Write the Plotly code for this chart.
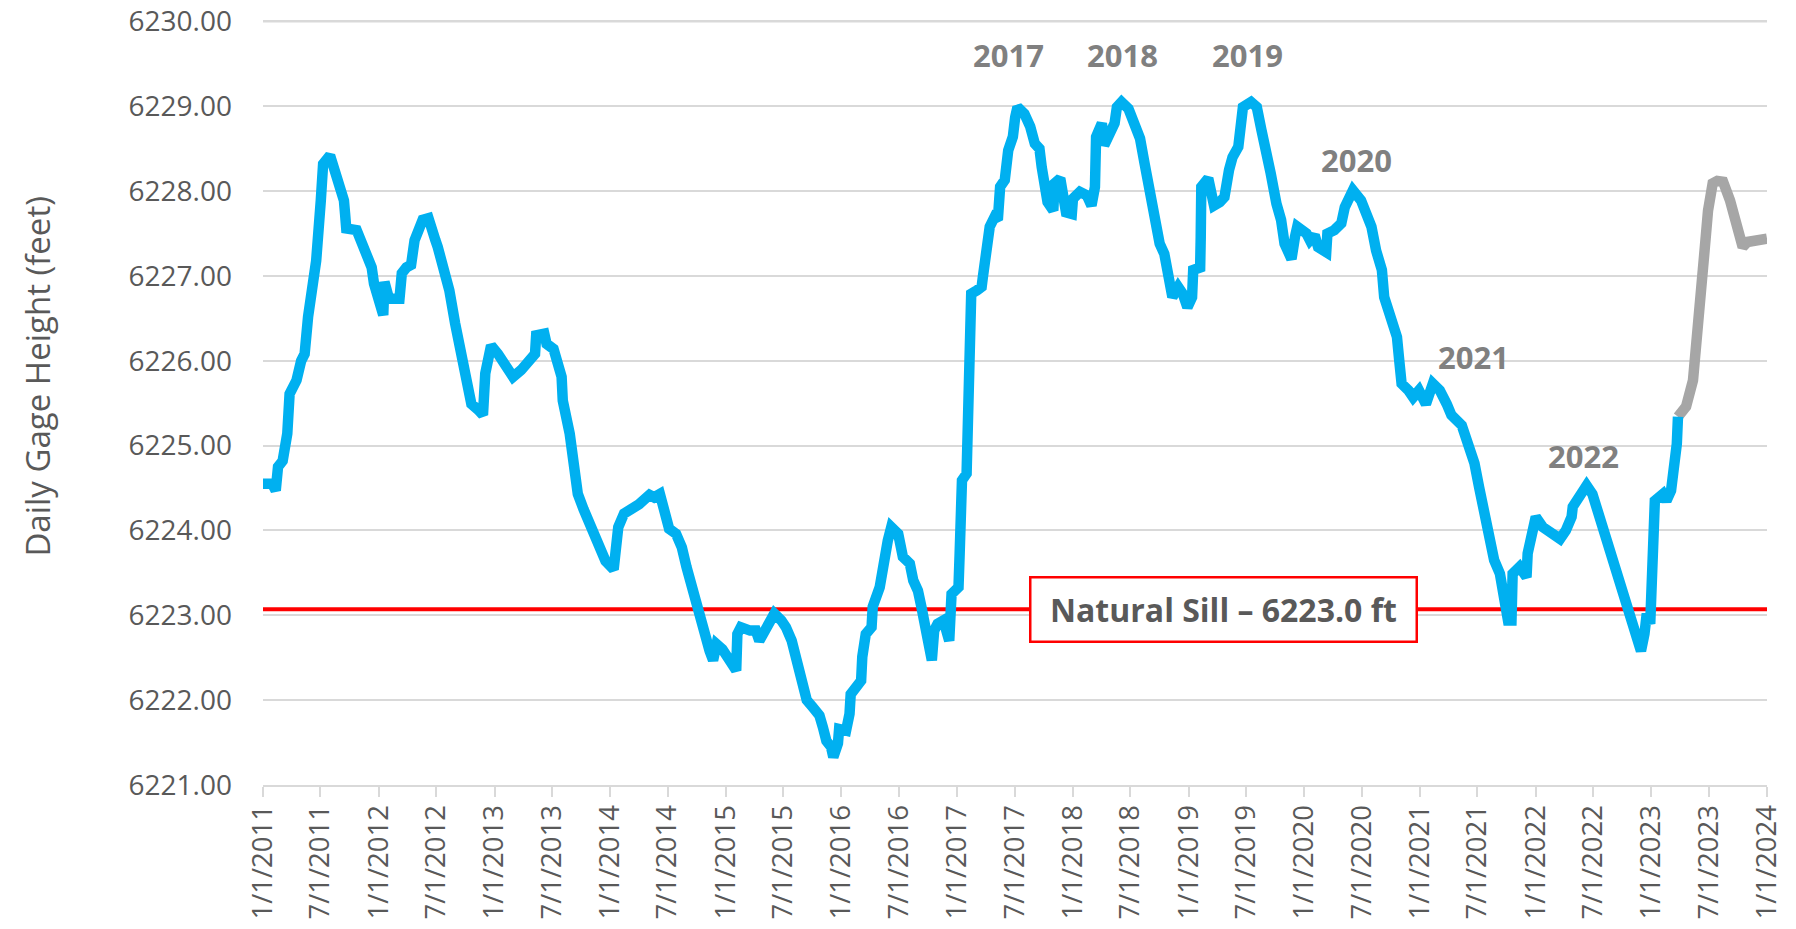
import plotly.graph_objects as go
from datetime import datetime

# ---------------- data (decimal year, gage height in feet) ----------------
blue_years = [
    2011.00, 2011.08, 2011.11, 2011.13, 2011.17, 2011.20, 2011.21, 2011.23, 2011.29, 2011.33,
    2011.36, 2011.39, 2011.43, 2011.46, 2011.50, 2011.52, 2011.58, 2011.63, 2011.70, 2011.71,
    2011.72, 2011.81, 2011.86, 2011.94, 2011.96, 2011.99, 2012.04, 2012.05, 2012.09, 2012.18,
    2012.20, 2012.24, 2012.28, 2012.31, 2012.34, 2012.38, 2012.43, 2012.47, 2012.49, 2012.51,
    2012.55, 2012.61, 2012.66, 2012.70, 2012.76, 2012.80, 2012.86, 2012.90, 2012.92, 2012.94,
    2012.97, 2013.03, 2013.09, 2013.16, 2013.23, 2013.30, 2013.35, 2013.36, 2013.43, 2013.45,
    2013.51, 2013.58, 2013.59, 2013.65, 2013.68, 2013.72, 2013.77, 2013.84, 2013.88, 2013.93,
    2013.96, 2014.03, 2014.07, 2014.12, 2014.20, 2014.25, 2014.34, 2014.38, 2014.43, 2014.47,
    2014.51, 2014.57, 2014.62, 2014.66, 2014.72, 2014.77, 2014.82, 2014.86, 2014.89, 2014.92,
    2014.97, 2015.03, 2015.09, 2015.10, 2015.13, 2015.21, 2015.26, 2015.29, 2015.32, 2015.36,
    2015.42, 2015.48, 2015.52, 2015.57, 2015.62, 2015.67, 2015.70, 2015.75, 2015.81, 2015.84,
    2015.87, 2015.91, 2015.93, 2015.97, 2015.98, 2016.04, 2016.07, 2016.08, 2016.14, 2016.17,
    2016.18, 2016.21, 2016.26, 2016.27, 2016.33, 2016.36, 2016.40, 2016.43, 2016.49, 2016.53,
    2016.59, 2016.62, 2016.66, 2016.69, 2016.73, 2016.78, 2016.80, 2016.83, 2016.88, 2016.93,
    2016.95, 2017.01, 2017.02, 2017.04, 2017.08, 2017.09, 2017.10, 2017.11, 2017.12, 2017.17,
    2017.21, 2017.22, 2017.24, 2017.27, 2017.28, 2017.32, 2017.35, 2017.37, 2017.41, 2017.44,
    2017.48, 2017.50, 2017.52, 2017.58, 2017.63, 2017.67, 2017.71, 2017.73, 2017.76, 2017.78,
    2017.83, 2017.84, 2017.89, 2017.91, 2017.94, 2017.99, 2018.00, 2018.06, 2018.12, 2018.16,
    2018.17, 2018.19, 2018.20, 2018.25, 2018.27, 2018.32, 2018.36, 2018.38, 2018.42, 2018.48,
    2018.52, 2018.58, 2018.62, 2018.65, 2018.68, 2018.71, 2018.75, 2018.79, 2018.82, 2018.86,
    2018.91, 2018.95, 2018.99, 2019.03, 2019.04, 2019.10, 2019.105, 2019.11, 2019.17, 2019.22,
    2019.27, 2019.31, 2019.35, 2019.38, 2019.43, 2019.46, 2019.47, 2019.54, 2019.59, 2019.63,
    2019.67, 2019.71, 2019.76, 2019.80, 2019.83, 2019.89, 2019.92, 2019.94, 2020.02, 2020.05,
    2020.09, 2020.12, 2020.19, 2020.20, 2020.26, 2020.32, 2020.35, 2020.39, 2020.42, 2020.49,
    2020.54, 2020.58, 2020.62, 2020.67, 2020.69, 2020.75, 2020.80, 2020.82, 2020.84, 2020.90,
    2020.94, 2020.99, 2021.05, 2021.11, 2021.17, 2021.23, 2021.27, 2021.36, 2021.40, 2021.43,
    2021.47, 2021.51, 2021.56, 2021.60, 2021.64, 2021.69, 2021.73, 2021.76, 2021.79, 2021.80,
    2021.86, 2021.92, 2021.93, 2021.98, 2022.00, 2022.06, 2022.15, 2022.21, 2022.26, 2022.31,
    2022.32, 2022.38, 2022.44, 2022.49, 2022.55, 2022.61, 2022.65, 2022.70, 2022.75, 2022.80,
    2022.84, 2022.91, 2022.94, 2022.96, 2022.99, 2023.01, 2023.03, 2023.10, 2023.13, 2023.17,
    2023.20, 2023.22, 2023.23,
]
blue_heights = [
    6224.55, 6224.55, 6224.47, 6224.75, 6224.82, 6224.98, 6225.14, 6225.61, 6225.77, 6226.00,
    6226.08, 6226.52, 6226.83, 6227.18, 6227.89, 6228.32, 6228.42, 6228.21, 6227.89, 6227.73,
    6227.56, 6227.54, 6227.34, 6227.10, 6226.91, 6226.75, 6226.54, 6226.93, 6226.73, 6226.73,
    6227.03, 6227.10, 6227.13, 6227.42, 6227.54, 6227.66, 6227.68, 6227.55, 6227.42, 6227.34,
    6227.14, 6226.83, 6226.44, 6226.16, 6225.73, 6225.49, 6225.42, 6225.36, 6225.85, 6225.97,
    6226.18, 6226.08, 6225.97, 6225.81, 6225.89, 6225.98, 6226.08, 6226.30, 6226.32, 6226.20,
    6226.14, 6225.81, 6225.53, 6225.14, 6224.90, 6224.43, 6224.25, 6224.04, 6223.88, 6223.72,
    6223.64, 6223.54, 6224.04, 6224.20, 6224.25, 6224.31, 6224.42, 6224.39, 6224.43, 6224.20,
    6224.02, 6223.96, 6223.80, 6223.57, 6223.25, 6223.06, 6222.78, 6222.58, 6222.47, 6222.66,
    6222.60, 6222.47, 6222.35, 6222.78, 6222.86, 6222.82, 6222.82, 6222.70, 6222.78, 6222.90,
    6223.02, 6222.94, 6222.86, 6222.70, 6222.47, 6222.19, 6222.00, 6221.92, 6221.82, 6221.68,
    6221.52, 6221.45, 6221.33, 6221.49, 6221.66, 6221.64, 6221.84, 6222.07, 6222.15, 6222.23,
    6222.51, 6222.78, 6222.86, 6223.10, 6223.33, 6223.65, 6223.88, 6224.04, 6223.96, 6223.69,
    6223.61, 6223.41, 6223.29, 6223.10, 6222.78, 6222.47, 6222.82, 6222.90, 6222.94, 6222.70,
    6223.25, 6223.33, 6223.73, 6224.59, 6224.67, 6225.06, 6225.50, 6226.10, 6226.79, 6226.83,
    6226.87, 6226.98, 6227.18, 6227.26, 6227.58, 6227.69, 6227.66, 6228.05, 6228.13, 6228.48,
    6228.64, 6228.87, 6228.99, 6228.91, 6228.76, 6228.56, 6228.50, 6228.28, 6228.05, 6227.87,
    6227.77, 6228.09, 6228.15, 6227.89, 6227.75, 6227.73, 6227.91, 6227.99, 6227.95, 6227.83,
    6227.97, 6228.05, 6228.64, 6228.80, 6228.54, 6228.66, 6228.80, 6228.99, 6229.05, 6228.97,
    6228.80, 6228.62, 6228.32, 6228.09, 6227.77, 6227.58, 6227.38, 6227.26, 6226.99, 6226.75,
    6226.87, 6226.79, 6226.63, 6226.75, 6227.07, 6227.10, 6227.46, 6228.05, 6228.15, 6227.83,
    6227.87, 6227.93, 6228.25, 6228.40, 6228.52, 6228.83, 6228.99, 6229.05, 6228.99, 6228.72,
    6228.52, 6228.21, 6227.85, 6227.66, 6227.38, 6227.20, 6227.46, 6227.58, 6227.50, 6227.42,
    6227.48, 6227.34, 6227.28, 6227.50, 6227.54, 6227.62, 6227.81, 6227.93, 6228.01, 6227.89,
    6227.69, 6227.58, 6227.30, 6227.07, 6226.75, 6226.44, 6226.28, 6226.00, 6225.73, 6225.65,
    6225.57, 6225.65, 6225.49, 6225.73, 6225.65, 6225.49, 6225.36, 6225.24, 6225.10, 6224.94,
    6224.79, 6224.51, 6224.20, 6223.96, 6223.65, 6223.49, 6223.10, 6222.94, 6222.94, 6223.49,
    6223.57, 6223.45, 6223.73, 6224.12, 6224.16, 6224.04, 6223.96, 6223.90, 6224.00, 6224.16,
    6224.28, 6224.39, 6224.53, 6224.43, 6224.16, 6223.96, 6223.69, 6223.49, 6223.25, 6223.06,
    6222.82, 6222.58, 6222.78, 6223.02, 6222.90, 6223.73, 6224.35, 6224.43, 6224.35, 6224.47,
    6224.75, 6225.02, 6225.34,
]

gray_years = [2023.23, 2023.30, 2023.36, 2023.40, 2023.43, 2023.46, 2023.49, 2023.53, 2023.57,
              2023.62, 2023.68, 2023.73, 2023.79, 2023.83, 2023.88, 2023.99, 2024.00]
gray_heights = [6225.34, 6225.46, 6225.77, 6226.28, 6226.83, 6227.30, 6227.77, 6228.09, 6228.12,
                6228.11, 6227.89, 6227.62, 6227.34, 6227.40, 6227.42, 6227.44, 6227.44]

sill_level = 6223.07
sill_label = "Natural Sill – 6223.0 ft"

year_labels = ["2017", "2018", "2019", "2020", "2021", "2022"]
year_label_x = [2017.44, 2018.43, 2019.51, 2020.45, 2021.46, 2022.41]
year_label_y = [6229.60, 6229.60, 6229.60, 6228.37, 6226.05, 6224.88]

y_tick_values = [6221, 6222, 6223, 6224, 6225, 6226, 6227, 6228, 6229, 6230]

tick_dates = []
tick_text = []
for yr in range(2011, 2025):
    tick_dates.append(datetime(yr, 1, 1)); tick_text.append(f"1/1/{yr}")
    if yr < 2024:
        tick_dates.append(datetime(yr, 7, 1)); tick_text.append(f"7/1/{yr}")


def to_date(y):
    year = int(y)
    start = datetime(year, 1, 1)
    end = datetime(year + 1, 1, 1)
    return start + (end - start) * (y - year)


blue_x = [to_date(v) for v in blue_years]
gray_x = [to_date(v) for v in gray_years]

TEXT = "#595959"
GRID = "#d9d9d9"
FONT = "Open Sans"
LINE_W = 10.5
Y_TOP = 6230.04

fig = go.Figure()
fig.add_trace(go.Scatter(
    x=[datetime(2011, 1, 1), datetime(2024, 1, 1)], y=[sill_level, sill_level],
    mode="lines", line=dict(color="#ff0000", width=4), showlegend=False, hoverinfo="skip"))
fig.add_trace(go.Scatter(
    x=gray_x, y=gray_heights, mode="lines",
    line=dict(color="#a6a6a6", width=LINE_W, shape="linear"), showlegend=False))
fig.add_trace(go.Scatter(
    x=blue_x, y=blue_heights, mode="lines",
    line=dict(color="#00b0f0", width=LINE_W, shape="linear"), showlegend=False))

# top gridline (kept explicitly so it is not dropped at the plot edge)
fig.add_shape(type="line", xref="paper", yref="y", x0=0, x1=1,
              y0=y_tick_values[-1], y1=y_tick_values[-1],
              line=dict(color=GRID, width=2), layer="below")

# Natural sill label box
fig.add_annotation(
    x=to_date(2019.30), y=sill_level, xref="x", yref="y",
    text=f"<b>{sill_label}</b>", showarrow=False,
    font=dict(family=FONT, size=32, color=TEXT),
    bgcolor="white", bordercolor="#ff0000", borderwidth=2.5, borderpad=2,
    width=380, height=58, align="center", valign="middle")

for t, xv, yv in zip(year_labels, year_label_x, year_label_y):
    fig.add_annotation(x=to_date(xv), y=yv, xref="x", yref="y", text=f"<b>{t}</b>",
                       showarrow=False, font=dict(family=FONT, size=31, color="#808080"))

# y axis title
fig.add_annotation(x=-0.150, y=0.533, xref="paper", yref="paper",
                   xanchor="center", yanchor="middle",
                   text="Daily Gage Height (feet)", textangle=-90, showarrow=False,
                   font=dict(family=FONT, size=33, color=TEXT))

fig.update_layout(
    width=1796, height=929,
    margin=dict(l=255, r=37, t=10, b=152, autoexpand=False),
    paper_bgcolor="white", plot_bgcolor="white",
    font=dict(family=FONT, color=TEXT),
    showlegend=False,
)
fig.update_xaxes(
    type="date", range=[datetime(2011, 1, 1), datetime(2024, 1, 1)],
    tickmode="array", tickvals=tick_dates, ticktext=tick_text, tickangle=-90,
    tickfont=dict(family=FONT, size=27.5, color=TEXT),
    ticks="outside", ticklen=10, tickcolor=GRID, tickwidth=2,
    showline=True, linecolor=GRID, linewidth=2, showgrid=False, zeroline=False,
    ticklabelstandoff=-3, automargin=False, ticklabeloverflow="allow",
)
fig.update_yaxes(
    range=[6221, Y_TOP], tickmode="array", tickvals=y_tick_values,
    ticktext=[f"{v:.2f}" for v in y_tick_values],
    tickfont=dict(family=FONT, size=28, color=TEXT),
    showgrid=True, gridcolor=GRID, gridwidth=2, zeroline=False, showline=False,
    ticks="", ticklabelstandoff=30, automargin=False, ticklabeloverflow="allow",
)

fig.write_html("out.html")
